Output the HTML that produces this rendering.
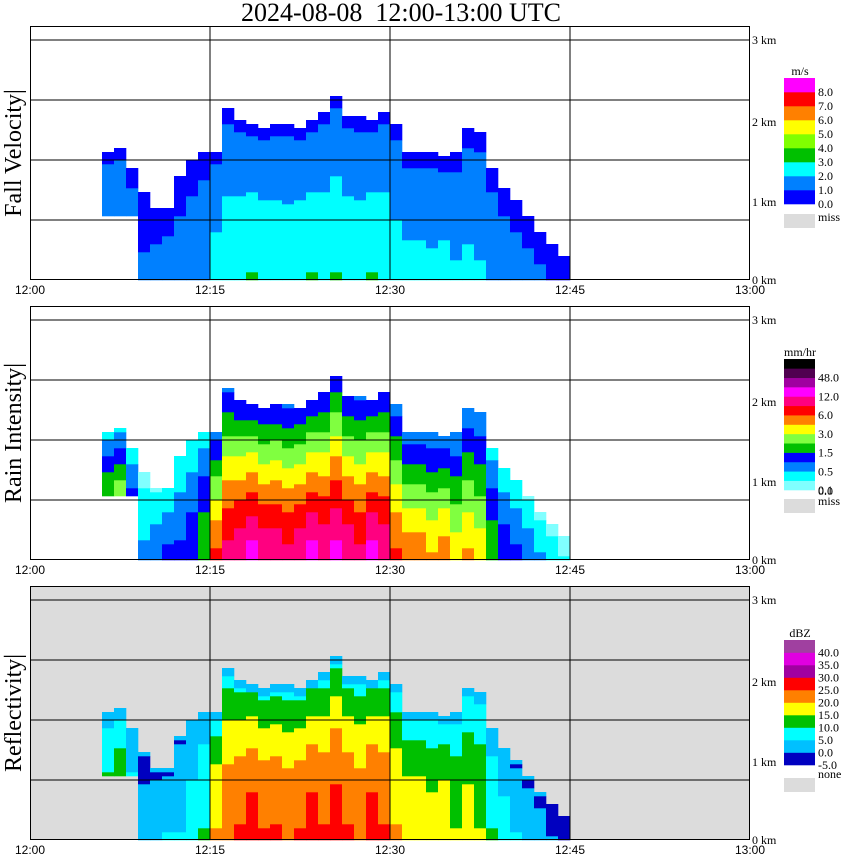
<!DOCTYPE html>
<html><head><meta charset="utf-8"><style>
body{margin:0;background:#fff;width:850px;height:868px;overflow:hidden}
svg{display:block}
.serif{font-family:"Liberation Serif",serif}
</style></head><body>
<svg id="chart" width="850" height="868" viewBox="0 0 850 868" xmlns="http://www.w3.org/2000/svg">
<text class="serif" x="401" y="21" font-size="26" text-anchor="middle" style="white-space:pre" xml:space="preserve">2024-08-08  12:00-13:00 UTC</text>
</svg>
<script>
// Data: per-minute (12:00..13:00) echo top / base (km) and intensity (0..1)
const minutes = Array.from({length:61},(_, i)=>i);
const echoTops = [0,0,0,0,0,0,1.6,1.65,1.4,1.1,0.9,0.9,1.3,1.5,1.6,1.6,2.15,2.0,1.95,1.9,1.95,1.95,1.9,2.0,2.1,2.3,2.05,2.05,2.0,2.1,1.95,1.6,1.6,1.6,1.55,1.6,1.9,1.85,1.4,1.15,1.0,0.8,0.6,0.45,0.3,0,0,0,0,0,0,0,0,0,0,0,0,0,0,0,0];
const echoBases = [0,0,0,0,0,0,0.8,0.8,0.8,0,0,0,0,0,0,0,0,0,0,0,0,0,0,0,0,0,0,0,0,0,0,0,0,0,0,0,0,0,0,0,0,0,0,0,0,0,0,0,0,0,0,0,0,0,0,0,0,0,0,0,0];
const intensity = [0,0,0,0,0,0,0.45,0.5,0.3,0.2,0.25,0.3,0.3,0.35,0.45,0.75,0.85,0.9,0.95,0.9,0.9,0.85,0.9,0.95,0.9,0.95,0.9,0.85,0.95,0.9,0.75,0.7,0.7,0.65,0.7,0.6,0.65,0.6,0.45,0.35,0.3,0.25,0.2,0.15,0.1,0,0,0,0,0,0,0,0,0,0,0,0,0,0,0,0];
const xTickLabels = ["12:00","12:15","12:30","12:45","13:00"];
const yTickLabels = ["0 km","1 km","2 km","3 km"];

const fvPal=['#0000ff','#0080ff','#00ffff','#00c000','#80ff00','#ffff00','#ff8000','#ff0000','#ff00ff'];
const fvLab=['0.0','1.0','2.0','3.0','4.0','5.0','6.0','7.0','8.0'];
const riPal=['#80ffff','#00ffff','#0080ff','#0000ff','#00c000','#80ff40','#ffff00','#ff8000','#ff0000','#ff0080','#ff00ff','#a000a0','#500050','#000000'];
const riLab=['0.1','','0.5','','1.5','','3.0','','6.0','','12.0','','48.0'];
const dzPal=['#0000c0','#00c0ff','#00ffff','#00c000','#ffff00','#ff8000','#ff0000','#a000a0','#e000e0','#a040a0'];
const dzLab=['-5.0','0.0','5.0','10.0','15.0','20.0','25.0','30.0','35.0','40.0'];

const NS='http://www.w3.org/2000/svg';
const svg=document.getElementById('chart');
function mk(tag,attrs,parent){const e=document.createElementNS(NS,tag);for(const k in attrs)e.setAttribute(k,attrs[k]);(parent||svg).appendChild(e);return e;}
const X0=30,X1=750;
const xScale=m=>X0+(X1-X0)*m/60;
const panels=[
 {name:'fall-velocity',label:'Fall Velocity',unit:'m/s',pal:fvPal,lab:fvLab,bg:'#fff',miss:'miss',
  idx:(s,z)=>z>0.95?0:Math.floor(0.6+s*2.6*Math.pow(1-z,0.7))},
 {name:'rain-intensity',label:'Rain Intensity',unit:'mm/hr',pal:riPal,lab:riLab,bg:'#fff',miss:'miss',
  idx:(s,z)=>{let v=Math.floor(s*11*(1-0.7*Math.pow(z,1.3)));return z>0.93?Math.min(v,3):v;}},
 {name:'reflectivity',label:'Reflectivity',unit:'dBZ',pal:dzPal,lab:dzLab,bg:'#dcdcdc',miss:'none',
  idx:(s,z)=>z>0.95?1:Math.floor(s*6.7*(1-0.6*z*z))}
];
panels.forEach((p,k)=>{
  const off=280*k, bot=280+off, top=26+off;
  const yScale=km=>bot-80*km;
  const g=mk('g',{});
  
  
  const bg=mk('rect',{x:X0,y:top,width:X1-X0,height:bot-top,fill:p.bg},g);
  
  
  const cg=mk('g',{},g);
  
  
  minutes.forEach(i=>{
    const t=echoTops[i]; if(!t) return;
    const b=echoBases[i], s=intensity[i];
    const x=xScale(i), w=xScale(i+1)-x;
    let runStart=null, runCol=null;
    const rows=Math.round((t-b)*20);
    for(let r=0;r<=rows;r++){
      let col=null;
      if(r<rows){const z=(r+0.5)/rows; let id=p.idx(s,z); id=Math.max(0,Math.min(p.pal.length-1,id)); col=p.pal[id];}
      if(col!==runCol){
        if(runCol){const y1=yScale(b+runStart/20), y2=yScale(b+r/20);
          const c=mk('rect',{x:x,y:y2,width:w+0.3,height:y1-y2+0.3,fill:runCol},cg);
          
          }
        runStart=r; runCol=col;
      }
    }
  });
  [40,100,160,220].forEach(yy=>{const l=mk('line',{x1:X0,x2:X1,y1:yy+off,y2:yy+off,stroke:'#000','stroke-width':1},g);
    
    });
  [15,30,45].forEach(m=>{const l=mk('line',{x1:xScale(m),x2:xScale(m),y1:top,y2:bot,stroke:'#000','stroke-width':1},g);
    
    });
  const fr=mk('rect',{x:X0+0.5,y:top+0.5,width:X1-X0-1,height:bot-top-1,fill:'none',stroke:'#000','stroke-width':1},g);
  
  
  xTickLabels.forEach((lbl,j)=>{const tx=mk('text',{x:xScale(j*15),y:bot+14,'font-size':12,'text-anchor':'middle','font-family':'Liberation Sans, sans-serif'},g);
    tx.textContent=lbl;
    
    });
  const yPos=[bot+4,202+off+4,122+off+4,40+off+4];
  yTickLabels.forEach((lbl,j)=>{const tx=mk('text',{x:752,y:yPos[j],'font-size':12,class:'serif'},g);
    tx.textContent=lbl;
    
    });
  const yt=mk('text',{x:0,y:0,'font-size':24,class:'serif','text-anchor':'middle',transform:`translate(21,${153+off}) rotate(-90)`},g);
  yt.textContent=p.label+'|';
  
  
  const n=p.pal.length, cbTop=[78,359,640][k], cbBot=[204,490,765][k];
  const h=(cbBot-cbTop)/n;
  const ut=mk('text',{x:800,y:cbTop-3,'font-size':12,class:'serif','text-anchor':'middle'},g);
  ut.textContent=p.unit;
  
  
  p.pal.forEach((c,j)=>{const yy=cbBot-(j+1)*h;
    const r=mk('rect',{x:784,y:yy,width:31,height:h+0.3,fill:c},g);
    
    
    if(p.lab[j]){const tx=mk('text',{x:818,y:yy+h+4,'font-size':12,class:'serif'},g);
      tx.textContent=p.lab[j];
      
      }
  });
  if(k==1){const tx=mk('text',{x:818,y:cbBot+5,'font-size':12,class:'serif'},g);tx.textContent='0.0';
    
    }
  const mb=mk('rect',{x:784,y:cbBot+[10,9,13][k],width:31,height:14,fill:'#dcdcdc'},g);
  
  
  const mt=mk('text',{x:818,y:cbBot+[17,15,13][k],'font-size':12,class:'serif'},g);
  mt.textContent=p.miss;
  
  
});
</script>
</body></html>
